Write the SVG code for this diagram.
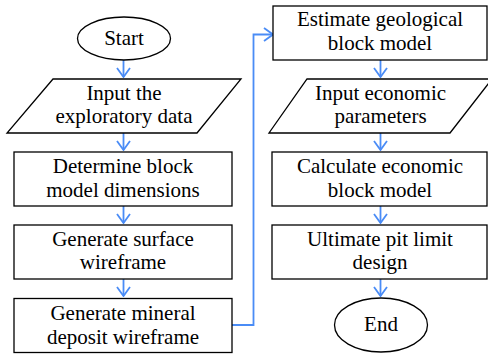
<svg xmlns="http://www.w3.org/2000/svg" width="488" height="354" viewBox="0 0 488 354" font-family="Liberation Serif" font-size="21">
<defs>
<style>
svg text, text, tspan {font-family:'Liberation Serif','Times New Roman',serif !important;font-size:21px !important}
</style>
<marker id="ah" viewBox="0 0 11 16" refX="10" refY="8" markerWidth="11" markerHeight="16" markerUnits="userSpaceOnUse" orient="auto">
<path d="M1,1.5 L10,8 L1,14.5" fill="none" stroke="#4a8cf6" stroke-width="1.8"/>
</marker>
</defs>
<rect width="488" height="354" fill="#fff"/>
<g id="connectors" fill="none" stroke="#4a8cf6" stroke-width="1.8" marker-end="url(#ah)">
<line x1="123.5" y1="60" x2="123.5" y2="77"/>
<line x1="123.5" y1="133" x2="123.5" y2="150"/>
<line x1="123.5" y1="206" x2="123.5" y2="223"/>
<line x1="123.5" y1="279" x2="123.5" y2="296"/>
<polyline points="232,325 253.5,325 253.5,34.5 273,34.5"/>
<line x1="380.5" y1="60" x2="380.5" y2="77"/>
<line x1="380.5" y1="133" x2="380.5" y2="150"/>
<line x1="380.5" y1="206" x2="380.5" y2="223"/>
<line x1="380.5" y1="279" x2="380.5" y2="296"/>
</g>
<g id="shapes" fill="#fff" stroke="#000" stroke-width="1.3">
<ellipse cx="124" cy="38.5" rx="46.5" ry="21.5"/>
<polygon points="53,79 241,79 197,133 7,133"/>
<rect x="14" y="152" width="218" height="54"/>
<rect x="14" y="225" width="218" height="54"/>
<rect x="14" y="298.5" width="218" height="54"/>
<rect x="273" y="6" width="214" height="54"/>
<polygon points="307,79 492,79 450,133 269,133"/>
<rect x="272" y="152" width="215" height="54"/>
<rect x="272" y="225" width="215" height="54"/>
<ellipse cx="381" cy="325" rx="46.5" ry="27"/>
</g>
<g text-anchor="middle" fill="#000" font-family="Liberation Serif" font-size="21">
<g id="start"><text x="124" y="45">Start</text></g>
<g id="input-data"><text x="124" y="100">Input the</text><text x="124" y="123">exploratory data</text></g>
<g id="determine"><text x="123" y="173">Determine block</text><text x="123" y="196.5">model dimensions</text></g>
<g id="surface"><text x="123" y="246">Generate surface</text><text x="123" y="269">wireframe</text></g>
<g id="mineral"><text x="123" y="320">Generate mineral</text><text x="123" y="343.5">deposit wireframe</text></g>
<g id="estimate"><text x="380" y="26">Estimate geological</text><text x="380" y="50">block model</text></g>
<g id="input-economic"><text x="380.5" y="100">Input economic</text><text x="380.5" y="123">parameters</text></g>
<g id="calculate"><text x="380" y="173">Calculate economic</text><text x="380" y="196.5">block model</text></g>
<g id="ultimate"><text x="380" y="246">Ultimate pit limit</text><text x="380" y="269">design</text></g>
<g id="end"><text x="381" y="330.5">End</text></g>
</g>
</svg>
